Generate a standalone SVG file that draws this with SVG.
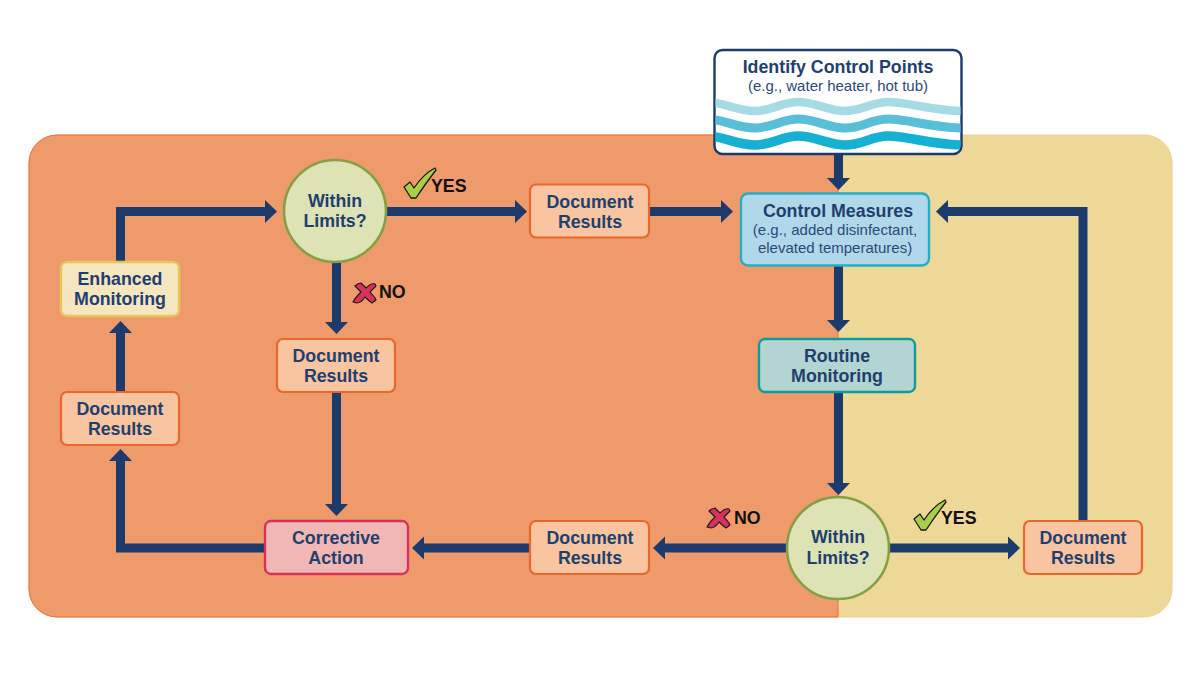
<svg xmlns="http://www.w3.org/2000/svg" width="1200" height="675" viewBox="0 0 1200 675">
<style>
.t{font-family:"Liberation Sans",Arial,sans-serif;font-weight:700;font-size:17.8px;fill:#1f3f6e;text-anchor:middle}
.s{font-family:"Liberation Sans",Arial,sans-serif;font-size:15px;fill:#2c4a76;text-anchor:middle}
.y{font-family:"Liberation Sans",Arial,sans-serif;font-weight:700;font-size:17.800px;fill:#111}
.doc{fill:#f9c4a0;stroke:#e9662c;stroke-width:2.2}
.lim{fill:#dde3b4;stroke:#84a045;stroke-width:2.6}
.c{fill:none;stroke:#1c3a6b;stroke-width:9;marker-end:url(#a)}
.w{fill:none}
.ck{fill:#a9cf4a;stroke:#1a1a1a;stroke-width:1.3;stroke-linejoin:round}
.xm{fill:#d8315b;stroke:#1a1a1a;stroke-width:1.1;stroke-linejoin:round}
</style>
<defs>
<marker id="a" markerUnits="userSpaceOnUse" markerWidth="14" markerHeight="26" refX="1" refY="13" orient="auto"><path d="M0 1.500L12 13L0 24.500Z" fill="#1c3a6b"/></marker>
<clipPath id="wc"><rect x="715.500" y="90" width="245" height="63" rx="7"/></clipPath>
<path id="wv" d="M705 0C722 -1 735 9 755 9C772 9 782 0 798 0C816 0 828 9 845 9C862 9 872 0 888 0C910 0 930 9 965 9"/>
<path id="tick" d="M404 187L410 182L414 188C420 179 427 172 435 168L436 170C429 179 422 189 416 198L411 198Z"/>
<path id="cross" d="M355 286C357 284 359 283 361 283L366 288C369 285 372 283 375 284L376 286L370 292C372 295 375 297 376 300L372 303C369 301 367 299 365 297C363 300 360 303 357 303L353 302C355 298 358 295 361 292Z"/>
</defs>
<g id="background">
<rect x="29" y="135" width="1143" height="482" rx="28" fill="#eed898" stroke="#ecd088" stroke-width="1"/>
<path d="M838 135H57A28 28 0 0 0 29 163V589A28 28 0 0 0 57 617H838Z" fill="#ef9a6b" stroke="#e8703a" stroke-width="1"/>
</g>
<g id="connectors">
<path class="c" d="M838.500 154V179"/>
<path class="c" d="M838.500 265V321"/>
<path class="c" d="M838.500 392V484"/>
<path class="c" d="M888 548H1009"/>
<path class="c" d="M1083 521V211.500H947"/>
<path class="c" d="M787 548H664"/>
<path class="c" d="M530 548H423"/>
<path class="c" d="M265 548H120.500V460"/>
<path class="c" d="M120.500 392V332"/>
<path class="c" d="M120.500 262V211.500H266"/>
<path class="c" d="M386 211.500H516"/>
<path class="c" d="M649 211.500H722"/>
<path class="c" d="M336.500 262V323"/>
<path class="c" d="M336.500 392V505"/>
</g>
<g id="identify-control-points">
<rect x="714.500" y="50" width="247" height="104" rx="8" fill="#fff" stroke="#1c3a6b" stroke-width="2.4"/>
<g clip-path="url(#wc)">
<use href="#wv" y="102" class="w" stroke="#a6dbe6" stroke-width="8.500"/>
<use href="#wv" y="119" class="w" stroke="#58bfd6" stroke-width="9"/>
<use href="#wv" y="136" class="w" stroke="#16b0d2" stroke-width="9.500"/>
</g>
<text class="t" x="838" y="73">Identify Control Points</text>
<text class="s" x="838" y="91">(e.g., water heater, hot tub)</text>
</g>
<g id="control-measures">
<rect x="741" y="193.500" width="188" height="72" rx="7" fill="#b0d8ea" stroke="#22aec6" stroke-width="2.4"/>
<text class="t" x="838" y="217">Control Measures</text>
<text class="s" x="835" y="235">(e.g., added disinfectant,</text>
<text class="s" x="835" y="253">elevated temperatures)</text>
</g>
<g id="routine-monitoring">
<rect x="759" y="339" width="156" height="53" rx="6" fill="#b2d5d2" stroke="#119a9a" stroke-width="2.4"/>
<text class="t" x="837" y="362">Routine</text>
<text class="t" x="837" y="382">Monitoring</text>
</g>
<g id="within-limits-bottom">
<circle class="lim" cx="838" cy="548" r="51"/>
<text class="t" x="838" y="543">Within</text>
<text class="t" x="838" y="564">Limits?</text>
</g>
<g id="within-limits-top">
<circle class="lim" cx="335" cy="211" r="51"/>
<text class="t" x="335" y="207">Within</text>
<text class="t" x="335" y="227">Limits?</text>
</g>
<g id="document-results-right">
<rect class="doc" x="1024" y="521" width="118" height="53" rx="6"/>
<text class="t" x="1083" y="544">Document</text>
<text class="t" x="1083" y="564">Results</text>
</g>
<g id="document-results-bottom">
<rect class="doc" x="530" y="521" width="119" height="53" rx="6"/>
<text class="t" x="590" y="544">Document</text>
<text class="t" x="590" y="564">Results</text>
</g>
<g id="corrective-action">
<rect x="265" y="521" width="143" height="53" rx="6" fill="#f1b7b4" stroke="#d8315b" stroke-width="2.4"/>
<text class="t" x="336" y="544">Corrective</text>
<text class="t" x="336" y="564">Action</text>
</g>
<g id="document-results-left">
<rect class="doc" x="61" y="392" width="118" height="53" rx="6"/>
<text class="t" x="120" y="415">Document</text>
<text class="t" x="120" y="435">Results</text>
</g>
<g id="enhanced-monitoring">
<rect x="61" y="262" width="118" height="54" rx="6" fill="#f5e6c0" stroke="#e8c55a" stroke-width="2.4"/>
<text class="t" x="120" y="285">Enhanced</text>
<text class="t" x="120" y="305">Monitoring</text>
</g>
<g id="document-results-center">
<rect class="doc" x="277" y="339" width="118" height="53" rx="6"/>
<text class="t" x="336" y="362">Document</text>
<text class="t" x="336" y="382">Results</text>
</g>
<g id="document-results-top">
<rect class="doc" x="530" y="184.500" width="119" height="53" rx="6"/>
<text class="t" x="590" y="208">Document</text>
<text class="t" x="590" y="228">Results</text>
</g>
<g id="labels">
<use href="#tick" class="ck"/>
<text class="y" x="431" y="192">YES</text>
<use href="#tick" class="ck" x="510" y="332"/>
<text class="y" x="941" y="524">YES</text>
<use href="#cross" class="xm"/>
<text class="y" x="379" y="298">NO</text>
<use href="#cross" class="xm" x="354" y="225"/>
<text class="y" x="734" y="524">NO</text>
</g>
</svg>
